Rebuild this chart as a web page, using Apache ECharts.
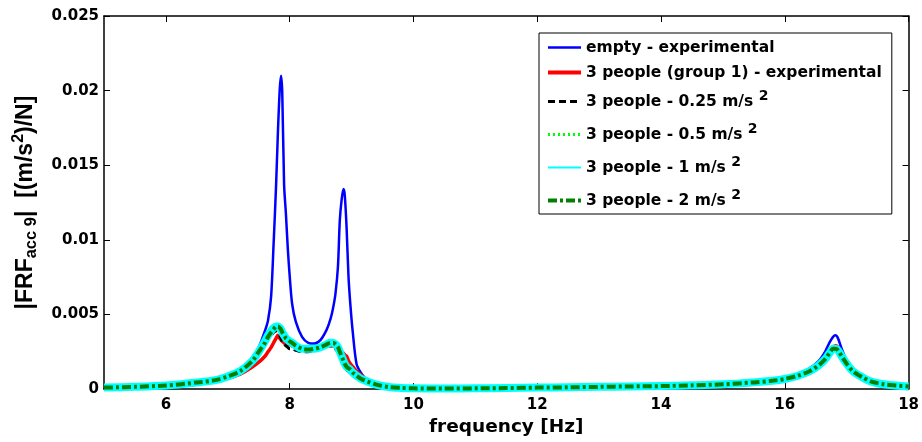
<!DOCTYPE html>
<html><head><meta charset="utf-8">
<script src="https://cdn.jsdelivr.net/npm/echarts@6/dist/echarts.min.js"></script>
<style>html,body{margin:0;padding:0;background:#fff}#c{width:922px;height:442px}</style>
</head><body><div id="c"></div>
<script>
// frequency grid [Hz]
const freq = [5.0,5.5,6.0,6.5,6.8,7.0,7.2,7.4,7.5,7.6,7.65,7.7,7.74,7.78,7.81,7.84,7.86,7.88,7.91,7.94,7.97,8.0,8.04,8.1,8.2,8.3,8.4,8.5,8.6,8.66,8.7,8.74,8.78,8.81,8.84,8.87,8.89,8.92,8.95,8.98,9.02,9.08,9.15,9.25,9.4,9.6,9.8,10.0,10.5,11.0,11.5,12.0,12.5,13.0,13.5,14.0,14.5,15.0,15.5,15.8,16.0,16.2,16.4,16.55,16.65,16.72,16.78,16.82,16.86,16.92,17.0,17.1,17.25,17.4,17.6,17.8,18.0];

// empty - experimental
const empty = [0.0001,0.00015,0.00022,0.00042,0.0006,0.00085,0.0013,0.0021,0.0028,0.0039,0.0046,0.0062,0.0097,0.0136,0.0172,0.0201,0.0210,0.0199,0.0137,0.0117,0.0094,0.0076,0.0057,0.0045,0.0035,0.0031,0.00305,0.0033,0.0040,0.0047,0.0054,0.0064,0.0082,0.0113,0.0127,0.0134,0.0130,0.0108,0.0076,0.0057,0.0038,0.0017,0.0011,0.0006,0.0003,0.00015,0.0001,0.00006,0.00005,0.00007,0.0001,0.00012,0.00015,0.00018,0.0002,0.00024,0.0003,0.00038,0.0005,0.00062,0.00075,0.001,0.0014,0.0019,0.0025,0.0031,0.0035,0.0036,0.0034,0.0027,0.0019,0.0013,0.0008,0.0005,0.0003,0.0002,0.0001];

// 3 people (group 1) - experimental
const group1 = [0.0001,0.00014,0.0002,0.00038,0.00052,0.00072,0.0010,0.0015,0.0018,0.0022,0.0025,0.0028,0.0031,0.0034,0.0036,0.0034,0.0033,0.0032,0.0031,0.0030,0.0030,0.0030,0.0029,0.0029,0.0028,0.0028,0.0028,0.0028,0.0029,0.0029,0.0029,0.0028,0.0027,0.0026,0.0025,0.0024,0.0023,0.0022,0.0019,0.0017,0.0015,0.0012,0.00095,0.0006,0.0003,0.00013,0.00008,0.00005,0.00005,0.00008,0.0001,0.00013,0.00017,0.0002,0.00024,0.00026,0.0003,0.00037,0.00048,0.00058,0.0007,0.0009,0.0012,0.0016,0.0021,0.0025,0.0028,0.0029,0.0028,0.0023,0.0016,0.0011,0.0007,0.0004,0.0002,0.0001,0.00004];

// 3 people - 0.25 m/s^2
const m025 = [0.0001,0.00015,0.00024,0.00044,0.0006,0.00085,0.0012,0.0019,0.0025,0.0031,0.0034,0.0036,0.0038,0.0039,0.0038,0.0036,0.0034,0.0032,0.0030,0.0029,0.0028,0.0027,0.0027,0.0026,0.0025,0.0025,0.0026,0.0027,0.0029,0.0029,0.0029,0.0027,0.0025,0.0023,0.0020,0.0017,0.0015,0.0013,0.0012,0.0011,0.0010,0.0008,0.0006,0.00045,0.00027,0.00014,0.00008,0.00005,0.00004,0.00005,0.00007,0.0001,0.00012,0.00015,0.00018,0.0002,0.00025,0.00032,0.00045,0.00056,0.00068,0.00088,0.0012,0.0016,0.002,0.0024,0.0027,0.0027,0.0026,0.0022,0.0017,0.0012,0.0008,0.0005,0.00032,0.00024,0.00018];

// 3 people - 0.5 m/s^2
const m05 = [0.0001,0.00015,0.00024,0.00044,0.0006,0.00085,0.0012,0.0019,0.0025,0.0032,0.0035,0.0037,0.0039,0.0041,0.0041,0.0039,0.0038,0.0036,0.0034,0.0032,0.0031,0.0030,0.0029,0.0028,0.0026,0.0026,0.0026,0.0027,0.0029,0.0030,0.0030,0.0029,0.0027,0.0024,0.0021,0.0018,0.0016,0.0014,0.0013,0.0012,0.00105,0.00085,0.00065,0.0005,0.00029,0.00014,0.00008,0.00005,0.00004,0.00005,0.00007,0.0001,0.00012,0.00015,0.00018,0.0002,0.00025,0.00032,0.00045,0.00056,0.00068,0.00088,0.0012,0.0016,0.002,0.0024,0.0027,0.0027,0.0026,0.0022,0.0017,0.0012,0.0008,0.0005,0.00032,0.00024,0.00018];

// 3 people - 1 m/s^2
const m1 = [0.0001,0.00015,0.00024,0.00044,0.0006,0.00085,0.0012,0.0019,0.0025,0.0032,0.0036,0.0039,0.0041,0.0042,0.0042,0.0041,0.0040,0.0038,0.0036,0.0034,0.0033,0.0032,0.0031,0.0029,0.0027,0.0027,0.0027,0.0028,0.0030,0.0031,0.0031,0.0030,0.0028,0.0025,0.0022,0.0019,0.0017,0.0015,0.0014,0.0013,0.0011,0.0009,0.0007,0.00052,0.0003,0.00014,0.00008,0.00005,0.00004,0.00005,0.00007,0.0001,0.00012,0.00015,0.00018,0.0002,0.00025,0.00032,0.00045,0.00056,0.00068,0.00088,0.0012,0.0016,0.002,0.0024,0.0027,0.0027,0.0026,0.0022,0.0017,0.0012,0.0008,0.0005,0.00032,0.00024,0.00018];

// 3 people - 2 m/s^2
const m2 = [0.0001,0.00015,0.00024,0.00044,0.0006,0.00085,0.0012,0.0019,0.0025,0.0031,0.0035,0.0038,0.0040,0.0042,0.0042,0.0041,0.0040,0.0038,0.0036,0.0034,0.0033,0.0032,0.0031,0.0029,0.0027,0.00265,0.0027,0.0028,0.0030,0.0031,0.0031,0.0030,0.0028,0.0025,0.0022,0.0019,0.0017,0.0015,0.0014,0.0013,0.0011,0.0009,0.0007,0.00052,0.0003,0.00014,0.00008,0.00005,0.00004,0.00005,0.00007,0.0001,0.00012,0.00015,0.00018,0.0002,0.00025,0.00032,0.00045,0.00056,0.00068,0.00088,0.0012,0.0016,0.002,0.0024,0.0027,0.0027,0.0026,0.0022,0.0017,0.0012,0.0008,0.0005,0.00032,0.00024,0.00018];

const seriesNames = ['empty - experimental','3 people (group 1) - experimental','3 people - 0.25 m/s^2','3 people - 0.5 m/s^2','3 people - 1 m/s^2','3 people - 2 m/s^2'];
const xTicks = [6,8,10,12,14,16,18];
const xTitle = 'frequency [Hz]';

const HF = 'DejaVu Sans';
const VF = 'Liberation Sans';
const values = [empty, group1, m025, m05, m1, m2];
const styles = [
  {color:'#0000ff', width:2.5, type:'solid', lw:2.5},
  {color:'#ff0000', width:3.5, type:'solid', lw:4},
  {color:'#000000', width:3, type:[7,4], lw:3},
  {color:'#00ff00', width:3, type:[2,3], lw:3},
  {color:'#00ffff', width:8, type:'solid', lw:2},
  {color:'#008000', width:4, type:[9,3,3,3], lw:4}
];

const chart = echarts.init(document.getElementById('c'), null, {renderer:'canvas'});
const axisLine = {show:true, onZero:false, lineStyle:{color:'#000', width:1.5}};
const tickStyle = {color:'#000', width:1};
chart.setOption({
  animation:false,
  backgroundColor:'#fff',
  grid:{left:104, right:13, top:16, bottom:52, containLabel:false},
  xAxis:[
    {type:'value', min:5, max:18, position:'bottom',
     axisLine:axisLine,
     axisTick:{show:true, inside:true, length:6, customValues:xTicks, lineStyle:tickStyle},
     axisLabel:{show:true, customValues:xTicks, margin:9, fontFamily:HF, fontWeight:'bold', fontSize:15, color:'#000'},
     splitLine:{show:false},
     name:xTitle, nameLocation:'middle', nameGap:22,
     nameTextStyle:{fontFamily:HF, fontWeight:'bold', fontSize:18.5, color:'#000'}},
    {type:'value', min:5, max:18, position:'top',
     axisLine:axisLine,
     axisTick:{show:true, inside:true, length:6, customValues:xTicks, lineStyle:tickStyle},
     axisLabel:{show:false}, splitLine:{show:false}}
  ],
  yAxis:[
    {type:'value', min:0, max:0.025, interval:0.005, position:'left',
     axisLine:axisLine,
     axisTick:{show:true, inside:true, length:6, lineStyle:tickStyle},
     axisLabel:{margin:5, fontFamily:HF, fontWeight:'bold', fontSize:15, color:'#000',
       formatter:v => String(+v.toFixed(3))},
     splitLine:{show:false},
     name:'{m||FRF}{b|acc 9}{m||  [(m/s}{p|2}{m|)/N]}',
     nameLocation:'middle', nameGap:60, nameRotate:90,
     nameTextStyle:{color:'#000', rich:{
       m:{fontFamily:VF, fontWeight:'bold', fontSize:23, lineHeight:26, color:'#000'},
       b:{fontFamily:VF, fontWeight:'bold', fontSize:16.5, lineHeight:15, padding:[11,0,0,0], color:'#000'},
       p:{fontFamily:VF, fontWeight:'bold', fontSize:16, lineHeight:12, padding:[0,0,14,0], color:'#000'}
     }}},
    {type:'value', min:0, max:0.025, interval:0.005, position:'right',
     axisLine:axisLine,
     axisTick:{show:true, inside:true, length:6, lineStyle:tickStyle},
     axisLabel:{show:false}, splitLine:{show:false}}
  ],
  legend:{
    orient:'vertical', left:539, top:33, selectedMode:false,
    padding:[6,10,1,7], itemGap:8, itemWidth:33, itemHeight:14,
    backgroundColor:'#fff', borderColor:'#000', borderWidth:1, borderRadius:0,
    textStyle:{fontFamily:HF, fontWeight:'bold', fontSize:15.5, lineHeight:17, color:'#000',
      rich:{s:{fontFamily:HF, fontWeight:'bold', fontSize:14, lineHeight:10, padding:[0,0,11,0], color:'#000'}}},
    formatter:n => n.replace('^2', ' {s|2}'),
    data:seriesNames.map((n,i) => ({name:n, itemStyle:{opacity:0}, lineStyle:{width:styles[i].lw}}))
  },
  series:values.map((arr,i) => ({
    name:seriesNames[i], type:'line', xAxisIndex:0, yAxisIndex:0,
    data:freq.map((f,j) => [f, arr[j]]),
    showSymbol:false, symbol:'none', smooth:0.3, z:2+i,
    color:styles[i].color,
    lineStyle:{color:styles[i].color, width:styles[i].width, type:styles[i].type, cap:'butt', join:'round'},
    emphasis:{disabled:true}
  }))
});
</script></body></html>
